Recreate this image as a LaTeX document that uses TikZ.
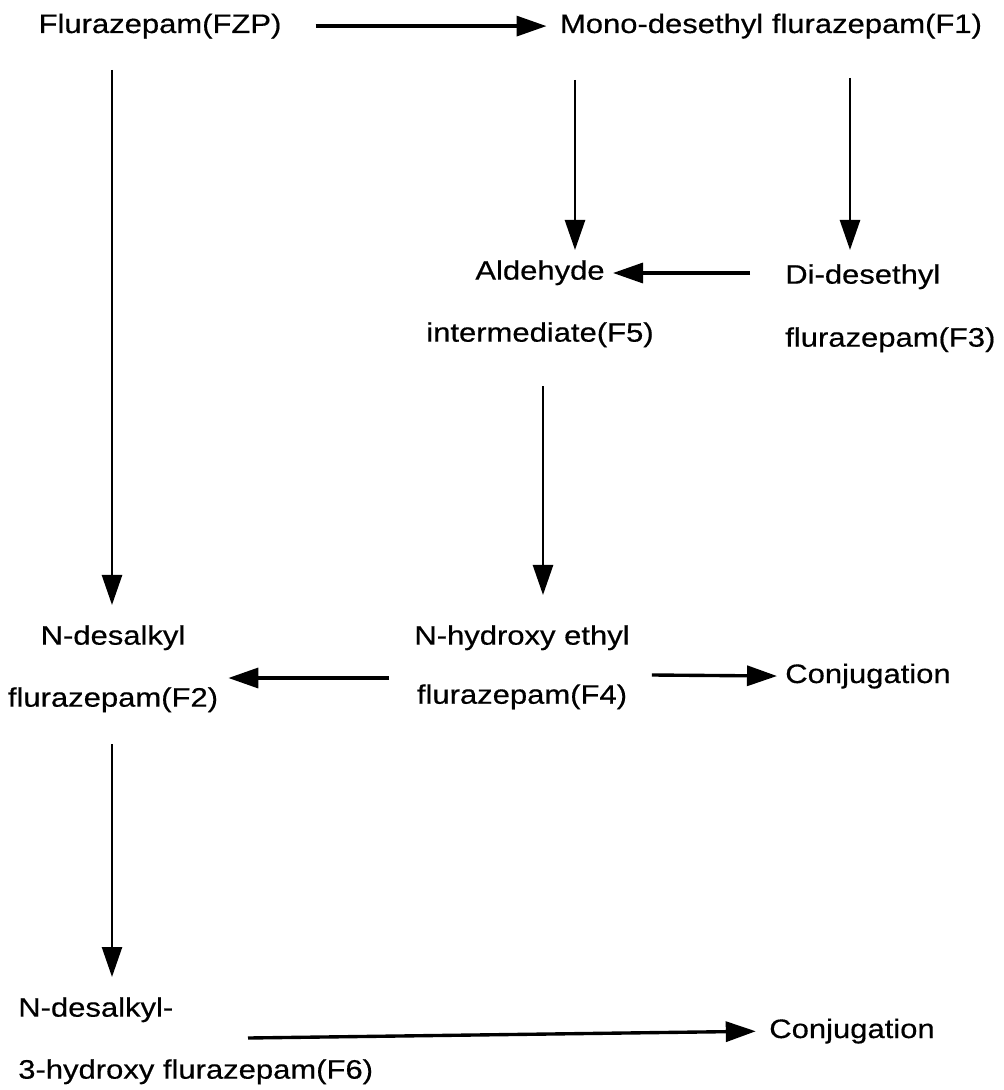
\documentclass[tikz,border=0pt]{standalone}
\usepackage{fontspec}
\setmainfont{Liberation Sans}[Ligatures=NoCommon,FakeStretch=1.16,FakeBold=0.5]
\usetikzlibrary{calc,arrows.meta}

\begin{document}
\begin{tikzpicture}
[x=0.025cm,y=-0.025cm,%
  every node/.style={inner sep=0pt,font=\fontsize{19}{23}\selectfont},%
  twolines/.style={align=#1},%
  arr/.style={-{Triangle[length=0.75cm,width=0.5cm]},line width=1.8pt},%
  harr/.style={arr,line width=2.4pt}]
\useasboundingbox (0,0) rectangle (1004,1090);
% compounds
\node[anchor=base] (fzp) at (160,33) {Flurazepam(FZP)};
\node[anchor=base] (f1) at (771,33) {Mono-desethyl flurazepam(F1)};
\node[twolines=center,anchor=north,font=\fontsize{19}{44.1}\selectfont]
  (f5) at (540,260) {Aldehyde\\intermediate(F5)};
\node[twolines=left,anchor=north west,font=\fontsize{19}{44.8}\selectfont]
  (f3) at (785,264) {Di-desethyl\\flurazepam(F3)};
\node[twolines=center,anchor=north,font=\fontsize{19}{44.1}\selectfont]
  (f2) at (113,625) {N-desalkyl\\flurazepam(F2)};
\node[twolines=center,anchor=north,font=\fontsize{19}{42}\selectfont]
  (f4) at (522,625) {N-hydroxy ethyl\\flurazepam(F4)};
\node[anchor=base] (conja) at (868,683) {Conjugation};
\node[twolines=left,anchor=north west,font=\fontsize{19}{44.1}\selectfont]
  (f6) at (18,997) {N-desalkyl-\\3-hydroxy flurazepam(F6)};
\node[anchor=base] (conjb) at (852,1038) {Conjugation};
% reactions
\draw[harr,shorten <=0.85cm,shorten >=0.33cm] (fzp.east) -- (f1.west);
\draw[arr] ($(fzp.south -| f2.north)+(-1,31)$) -- ($(f2.north)+(-1,-20)$);
\draw[arr] ($(f1.south -| f5.north)+(35,41)$) -- ($(f5.north)+(35,-10)$);
\draw[arr] ($(f1.south -| f3.north west)+(65,39)$) -- ($(f3.north west)+(65,-14)$);
\draw[harr] ($(f3.north west)+(-35,9)$) -- ($(f5.north)+(73,13)$);
\draw[arr] ($(f5.south -| f4.north)+(21,39)$) -- ($(f4.north)+(21,-30)$);
\draw[harr] ($(f4.north west)+(-25,53)$) -- ($(f2.north east)+(10,53)$);
\draw[harr,shorten >=0.2cm] ($(f4.north east)+(22,50)$) -- (conja.west);
\draw[arr] ($(f2.south)+(-1,32)$) -- ($(f6.north west)+(94,-20)$);
\draw[harr,shorten >=0.33cm] ($(f6.north west)+(230,41)$) -- (conjb.west);
\end{tikzpicture}
\end{document}
